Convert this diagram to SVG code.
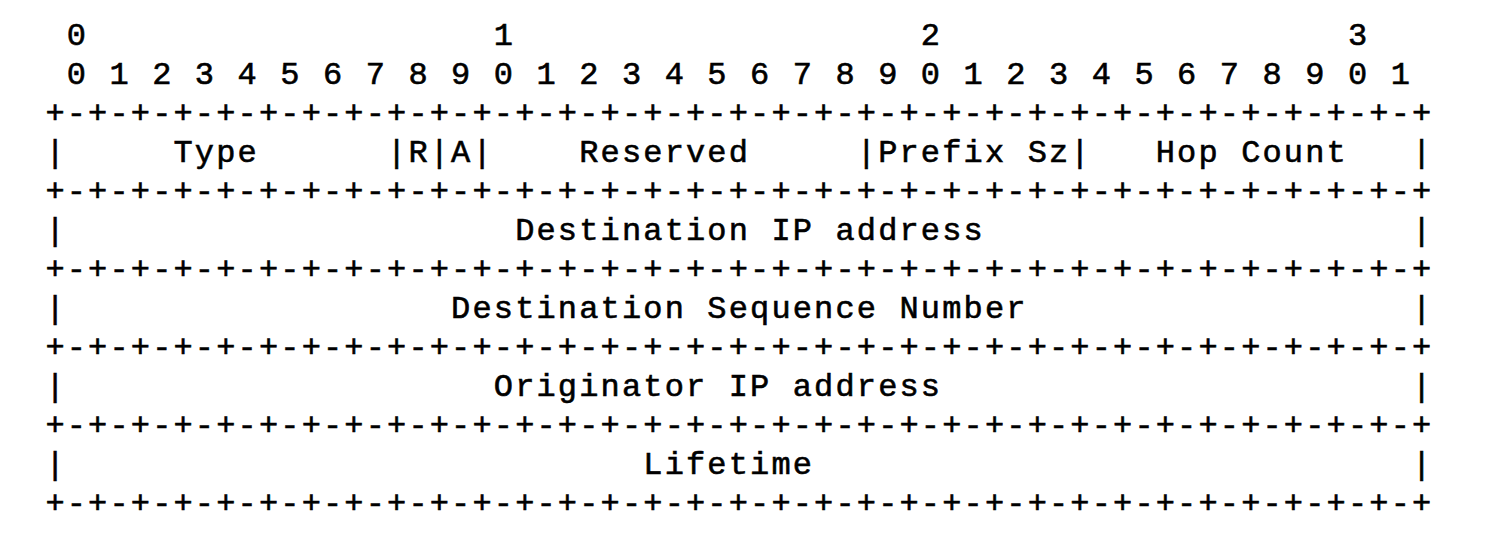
<svg xmlns="http://www.w3.org/2000/svg" width="1494" height="550" viewBox="0 0 1494 550">
<style>
text{font-family:"Liberation Mono","DejaVu Sans Mono",monospace;font-size:32px;letter-spacing:2.15px;fill:#000;stroke:#000;stroke-width:0.6px;white-space:pre;}
</style>
<rect width="1494" height="550" fill="#fff"/>
<g id="bit-ruler">
<text x="45.4" y="45" xml:space="preserve"> 0                   1                   2                   3</text>
<text x="45.4" y="84" xml:space="preserve"> 0 1 2 3 4 5 6 7 8 9 0 1 2 3 4 5 6 7 8 9 0 1 2 3 4 5 6 7 8 9 0 1</text>
</g>
<g id="borders">
<text x="45.4" y="123" xml:space="preserve">+-+-+-+-+-+-+-+-+-+-+-+-+-+-+-+-+-+-+-+-+-+-+-+-+-+-+-+-+-+-+-+-+</text>
<text x="45.4" y="201" xml:space="preserve">+-+-+-+-+-+-+-+-+-+-+-+-+-+-+-+-+-+-+-+-+-+-+-+-+-+-+-+-+-+-+-+-+</text>
<text x="45.4" y="279" xml:space="preserve">+-+-+-+-+-+-+-+-+-+-+-+-+-+-+-+-+-+-+-+-+-+-+-+-+-+-+-+-+-+-+-+-+</text>
<text x="45.4" y="357" xml:space="preserve">+-+-+-+-+-+-+-+-+-+-+-+-+-+-+-+-+-+-+-+-+-+-+-+-+-+-+-+-+-+-+-+-+</text>
<text x="45.4" y="435" xml:space="preserve">+-+-+-+-+-+-+-+-+-+-+-+-+-+-+-+-+-+-+-+-+-+-+-+-+-+-+-+-+-+-+-+-+</text>
<text x="45.4" y="513" xml:space="preserve">+-+-+-+-+-+-+-+-+-+-+-+-+-+-+-+-+-+-+-+-+-+-+-+-+-+-+-+-+-+-+-+-+</text>
</g>
<g id="row-type">
<text x="45.4" y="162" xml:space="preserve">|     Type      |R|A|    Reserved     |Prefix Sz|   Hop Count   |</text>
</g>
<g id="row-dest-ip">
<text x="45.4" y="240" xml:space="preserve">|                     Destination IP address                    |</text>
</g>
<g id="row-dest-seq">
<text x="45.4" y="318" xml:space="preserve">|                  Destination Sequence Number                  |</text>
</g>
<g id="row-orig-ip">
<text x="45.4" y="396" xml:space="preserve">|                    Originator IP address                      |</text>
</g>
<g id="row-lifetime">
<text x="45.4" y="474" xml:space="preserve">|                           Lifetime                            |</text>
</g>
</svg>
